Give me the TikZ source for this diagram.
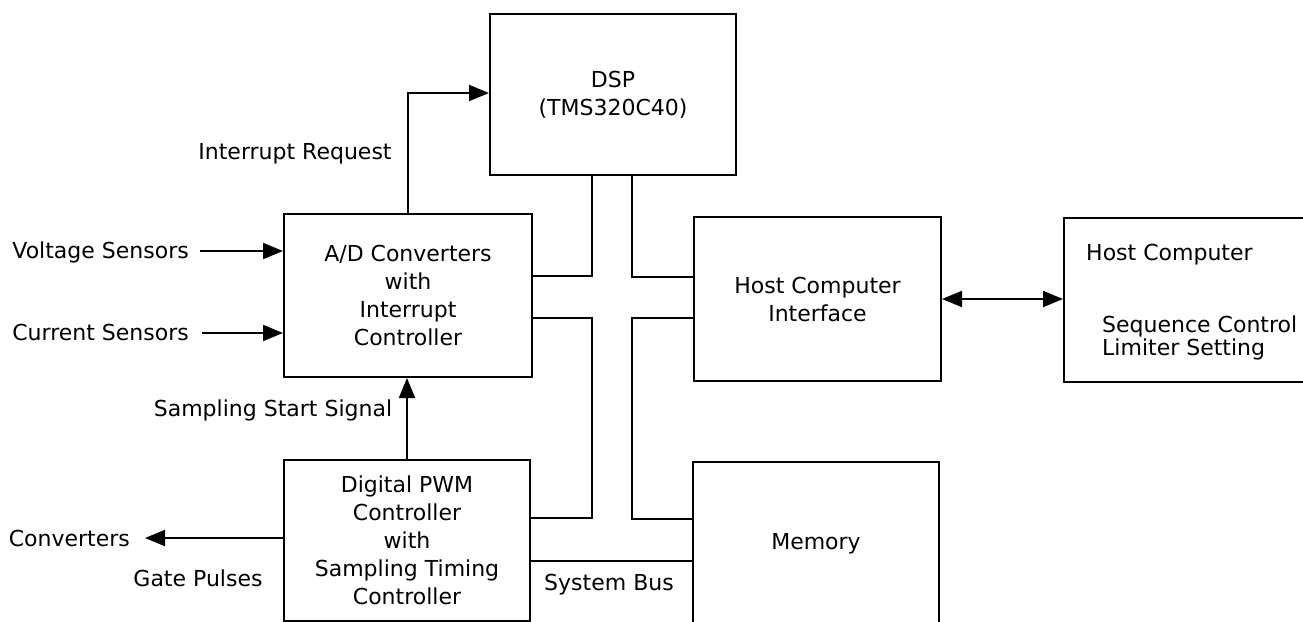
\documentclass[tikz,border=0pt]{standalone}
\usepackage{fontspec}
\newfontfamily\djv{DejaVu Sans}
\usetikzlibrary{arrows.meta}
\begin{document}
\begin{tikzpicture}[x=1pt,y=-1pt,
  every node/.style={font=\djv\fontsize{22}{28}\selectfont},
  box/.style={draw, line width=2pt, anchor=north west, align=center, inner sep=0pt},
  lab/.style={inner sep=0pt, text height=16pt, text depth=0pt},
  bus/.style={line width=2pt},
  arr/.style={line width=2pt, -{Triangle[length=20pt,width=16pt]}},
  arrb/.style={line width=2pt, {Triangle[length=20pt,width=16pt]}-{Triangle[length=20pt,width=16pt]}}
]
\fill[white] (0,0) rectangle (1303,621);
\useasboundingbox (0,0) rectangle (1303,621);

% boxes
\node[box, minimum width=246pt, minimum height=161pt] (dsp) at (489,13) {DSP\\(TMS320C40)};
\node[box, minimum width=248pt, minimum height=163pt] (adc) at (283,213) {A/D Converters\\with\\Interrupt\\Controller};
\node[box, minimum width=246pt, minimum height=161pt] (pwm) at (283,459) {Digital PWM\\Controller\\with\\Sampling Timing\\Controller};
\node[box, minimum width=247pt, minimum height=164pt] (hci) at (693,216) {Host Computer\\Interface};
\node[box, minimum width=250pt, minimum height=164pt] (hc) at (1063,217) {};
\node[box, minimum width=246pt, minimum height=164pt] (mem) at (692,461) {Memory};

% labels
\node[lab, anchor=east] (vlab) at (189,250) {Voltage Sensors};
\node[lab, anchor=east] (clab) at (189,332) {Current Sensors};
\node[lab] (irlab) at (295,151) {Interrupt Request};
\node[lab] (sslab) at (273,408) {Sampling Start Signal};
\node[lab, anchor=east] (cvlab) at (130,538) {Converters};
\node[lab] (gplab) at (198,578) {Gate Pulses};
\node[lab] (sblab) at (609,582) {System Bus};
\node[lab, anchor=west] (hc1) at (1086,252) {Host Computer};
\node[lab, anchor=west] (hc2) at (1102,324) {Sequence Control};
\node[lab, anchor=west] (hc3) at (1102,347) {Limiter Setting};

% coordinates
\coordinate (vs) at (200,251);
\coordinate (cs) at (202,333);
\coordinate (cv) at (145,538);
\coordinate (ir) at (407,93);
\coordinate (hb) at (1000,299);
\coordinate (b1) at (592,276);
\coordinate (b2) at (592,318);
\coordinate (b3) at (592,518);
\coordinate (b4) at (632,277);
\coordinate (b5) at (632,318);
\coordinate (b6) at (632,519);
\coordinate (b7) at (610,561);

% bus
\draw[bus] (dsp.south -| b1) -- (b1) -- (b1 -| adc.east);
\draw[bus] (b2 -| adc.east) -- (b2) -- (b3) -- (b3 -| pwm.east);
\draw[bus] (dsp.south -| b4) -- (b4) -- (b4 -| hci.west);
\draw[bus] (b5 -| hci.west) -- (b5) -- (b6) -- (b6 -| mem.west);
\draw[bus] (b7 -| pwm.east) -- (b7 -| mem.west);

% arrows
\draw[arr] (vs) -- (vs -| adc.west);
\draw[arr] (cs) -- (cs -| adc.west);
\draw[arr] (adc.north) |- (ir -| dsp.west);
\draw[arr] (pwm.north) -- (pwm.north |- adc.south);
\draw[arr] (cv -| pwm.west) -- (cv);
\draw[arrb] (hb -| hci.east) -- (hb -| hc.west);
\end{tikzpicture}
\end{document}
